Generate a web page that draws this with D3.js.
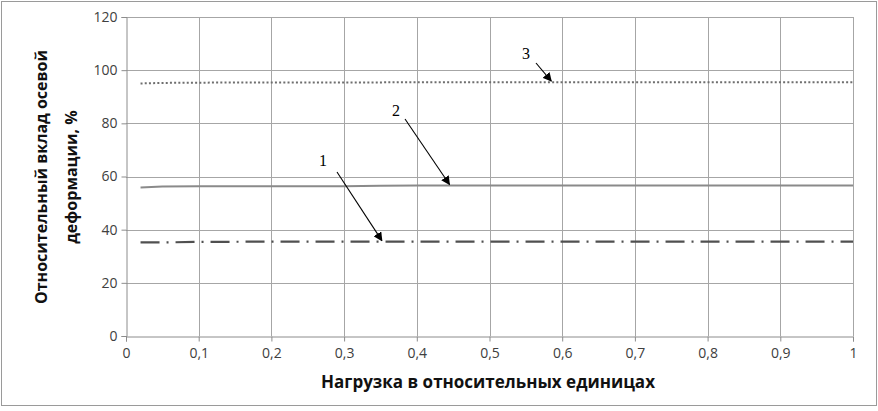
<!DOCTYPE html>
<html><head><meta charset="utf-8">
<script src="https://cdn.jsdelivr.net/npm/d3@7"></script>
<style>body{margin:0;background:#fff}svg{display:block}</style>
</head><body>
<svg id="c" width="878" height="411"></svg>
<script>
const loads = [0.02, 0.05, 0.1, 0.2, 0.3, 0.35, 0.4, 0.5, 0.6, 0.7, 0.8, 0.9, 1.0];
const series1 = [35.2, 35.2, 35.4, 35.5, 35.5, 35.5, 35.5, 35.5, 35.5, 35.5, 35.5, 35.5, 35.5];
const series2 = [55.9, 56.2, 56.3, 56.3, 56.3, 56.5, 56.6, 56.6, 56.6, 56.6, 56.6, 56.6, 56.6];
const series3 = [95.0, 95.2, 95.3, 95.4, 95.4, 95.4, 95.5, 95.5, 95.5, 95.5, 95.5, 95.5, 95.5];
const xTicks = [0, 0.1, 0.2, 0.3, 0.4, 0.5, 0.6, 0.7, 0.8, 0.9, 1];
const yTicks = [0, 20, 40, 60, 80, 100, 120];
const labels = ["1", "2", "3"];
const yTitle = ["Относительный вклад осевой", "деформации, %"];
const xTitle = "Нагрузка в относительных единицах";

const svg = d3.select("#c");
const x = d3.scaleLinear().domain([0, 1]).range([126, 853]);
const y = d3.scaleLinear().domain([0, 120]).range([336, 17]);
const fmt = d => d === 0 || d === 1 ? String(d) : String(d).replace(".", ",");

svg.append("rect").attr("x", 1.5).attr("y", 1.5).attr("width", 875).attr("height", 404)
  .attr("fill", "#fff").attr("stroke", "#9a9a9a").attr("stroke-width", 1);

// grid
svg.append("g").selectAll("line").data(yTicks.slice(1)).join("line")
  .attr("x1", x(0)).attr("x2", x(1)).attr("y1", d => Math.round(y(d)) + 0.5).attr("y2", d => Math.round(y(d)) + 0.5)
  .attr("stroke", "#a6a6a6");
svg.append("g").selectAll("line").data(xTicks.slice(1)).join("line")
  .attr("y1", y(0)).attr("y2", y(120)).attr("x1", d => Math.round(x(d)) + 0.5).attr("x2", d => Math.round(x(d)) + 0.5)
  .attr("stroke", "#a6a6a6");

// axes
const tickFont = "'Open Sans', 'DejaVu Sans', sans-serif";
const ax = svg.append("g").attr("transform", `translate(0,${Math.round(y(0)) + 0.5})`)
  .call(d3.axisBottom(x).tickValues(xTicks).tickFormat(fmt).tickSize(5).tickPadding(7));
const ay = svg.append("g").attr("transform", `translate(${Math.round(x(0)) + 0.5},0)`)
  .call(d3.axisLeft(y).tickValues(yTicks).tickSize(5).tickPadding(4));
[ax, ay].forEach(a => {
  a.select(".domain").attr("stroke", "#8c8c8c");
  a.selectAll(".tick line").attr("stroke", "#8c8c8c");
  a.selectAll("text").attr("fill", "#404040").style("font-family", tickFont).style("font-size", "14px");
});

// series
const line = d3.line().x((d, i) => x(loads[i])).y(d => y(d));
const styles = [
  {data: series1, stroke: "#505050", w: 2.2, dash: "19,7,2,7"},
  {data: series2, stroke: "#8a8a8a", w: 2, dash: null},
  {data: series3, stroke: "#6e6e6e", w: 2, dash: "2,2.2"}
];
styles.forEach(s => {
  svg.append("path").datum(s.data).attr("d", line).attr("fill", "none")
    .attr("stroke", s.stroke).attr("stroke-width", s.w).attr("stroke-dasharray", s.dash);
});

// annotations
const defs = svg.append("defs");
defs.append("marker").attr("id", "ar").attr("viewBox", "0 0 10 10").attr("refX", 9).attr("refY", 5)
  .attr("markerWidth", 9).attr("markerHeight", 9).attr("markerUnits", "userSpaceOnUse").attr("orient", "auto")
  .append("path").attr("d", "M0,0 L10,5 L0,10 z").attr("fill", "#000");
const ann = [
  {lx: 323, ly: 166, x1: 337, y1: 172, tx: 0.352, ty: series1[7]},
  {lx: 396, ly: 116, x1: 405, y1: 119, tx: 0.445, ty: series2[7]},
  {lx: 526, ly: 59,  x1: 536, y1: 63,  tx: 0.585, ty: series3[8]}
];
ann.forEach((a, i) => {
  svg.append("text").attr("x", a.lx).attr("y", a.ly).attr("text-anchor", "middle")
    .style("font-family", "'Liberation Serif', serif").style("font-size", "16px").text(labels[i]);
  svg.append("line").attr("x1", a.x1).attr("y1", a.y1).attr("x2", x(a.tx)).attr("y2", y(a.ty) - 1)
    .attr("stroke", "#000").attr("stroke-width", 1.1).attr("marker-end", "url(#ar)");
});

// titles
const titleFont = "'Liberation Sans Narrow', 'Open Sans', sans-serif";
svg.append("text").attr("x", 488).attr("y", 388).attr("text-anchor", "middle")
  .style("font-family", titleFont).style("font-weight", "bold").style("font-size", "17px")
  .attr("fill", "#111").text(xTitle);
yTitle.forEach((t, i) => {
  svg.append("text").attr("transform", `translate(${47 + i * 30},177) rotate(-90)`).attr("text-anchor", "middle")
    .style("font-family", titleFont).style("font-weight", "bold").style("font-size", "16px")
    .attr("fill", "#111").text(t);
});
</script>
</body></html>
